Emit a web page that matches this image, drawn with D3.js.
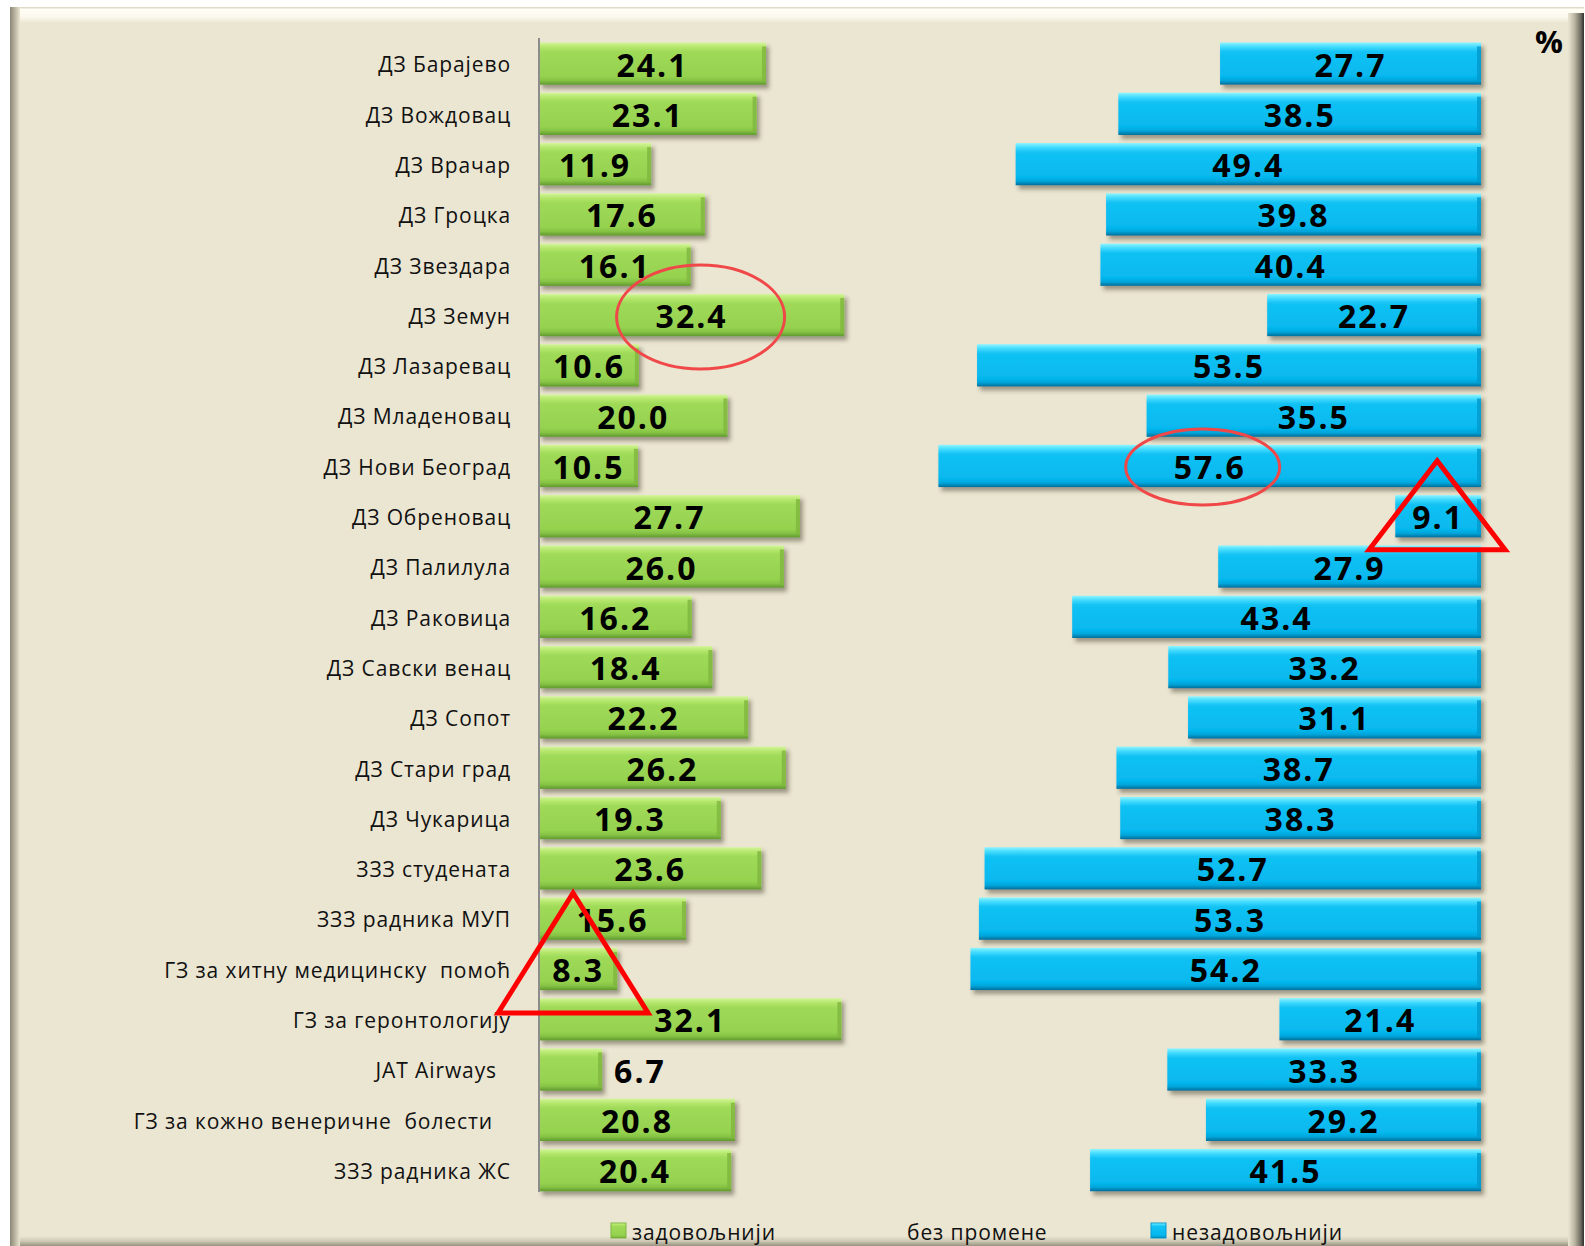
<!DOCTYPE html>
<html>
<head>
<meta charset="utf-8">
<script src="https://cdn.jsdelivr.net/npm/d3@7"></script>
<style>
  body { margin: 0; background: #fff; }
  text { font-family: "Open Sans", "Noto Sans", sans-serif; }
</style>
</head>
<body>
<div id="chart"></div>
<script>
// categories (top to bottom)
const categories = [
  "ДЗ Барајево", "ДЗ Вождовац", "ДЗ Врачар", "ДЗ Гроцка", "ДЗ Звездара",
  "ДЗ Земун", "ДЗ Лазаревац", "ДЗ Младеновац", "ДЗ Нови Београд", "ДЗ Обреновац",
  "ДЗ Палилула", "ДЗ Раковица", "ДЗ Савски венац", "ДЗ Сопот", "ДЗ Стари град",
  "ДЗ Чукарица", "ЗЗЗ студената", "ЗЗЗ радника МУП", "ГЗ за хитну медицинску  помоћ",
  "ГЗ за геронтологију", "JAT Airways", "ГЗ за кожно венеричне  болести", "ЗЗЗ радника ЖС"
];
// label shift for the two labels that end a little left of the others
const labelShift = { "JAT Airways": 14, "ГЗ за кожно венеричне  болести": 18 };

const satisfied = [24.1, 23.1, 11.9, 17.6, 16.1, 32.4, 10.6, 20.0, 10.5, 27.7, 26.0, 16.2,
  18.4, 22.2, 26.2, 19.3, 23.6, 15.6, 8.3, 32.1, 6.7, 20.8, 20.4];
const dissatisfied = [27.7, 38.5, 49.4, 39.8, 40.4, 22.7, 53.5, 35.5, 57.6, 9.1, 27.9, 43.4,
  33.2, 31.1, 38.7, 38.3, 52.7, 53.3, 54.2, 21.4, 33.3, 29.2, 41.5];
// "без промене" is the remainder to 100 %, drawn invisible
const unchanged = satisfied.map((s, i) => +(100 - s - dissatisfied[i]).toFixed(1));

const seriesNames = ["задовољнији", "без промене", "незадовољнији"];

// red hand-drawn highlights (offsets relative to the value label)
const highlights = [
  { cat: "ДЗ Земун", series: 0, shape: "ellipse", rx: 84, ry: 52, dx: 9, dy: 2 },
  { cat: "ДЗ Нови Београд", series: 2, shape: "ellipse", rx: 77, ry: 38, dx: -7, dy: 1 },
  { cat: "ГЗ за хитну медицинску  помоћ", series: 0, shape: "triangle", rx: 75, ry: 120, dx: -5, dy: -16 },
  { cat: "ДЗ Обреновац", series: 2, shape: "triangle", rx: 68, ry: 89, dx: -1, dy: -11 }
];

const W = 1585, H = 1246;
const svg = d3.select("#chart").append("svg")
  .attr("width", W).attr("height", H);

const defs = svg.append("defs");

function grad(id, stops, horiz) {
  const g = defs.append("linearGradient").attr("id", id)
    .attr("x1", 0).attr("y1", 0).attr("x2", horiz ? 1 : 0).attr("y2", horiz ? 0 : 1);
  stops.forEach(s => g.append("stop").attr("offset", s[0]).attr("stop-color", s[1]));
}
grad("gGreen", [["0%", "#d4f59c"], ["10%", "#b6e86e"], ["22%", "#9fda58"], ["80%", "#95d24f"], ["90%", "#86c244"], ["100%", "#5f9a2e"]]);
grad("gBlue", [["0%", "#8ff4ff"], ["10%", "#45dcff"], ["22%", "#12c2f4"], ["80%", "#06b8ee"], ["90%", "#03a6dc"], ["100%", "#036f99"]]);
grad("gLeft", [["0%", "#8a8776"], ["60%", "#c4bfa9"], ["100%", "#ebe6d2"]], true);
grad("gRight", [["0%", "#ebe6d2"], ["40%", "#bdb8a4"], ["80%", "#6d6a60"], ["100%", "#2f2f2c"]], true);
grad("gTop", [["0%", "#d6d1bd"], ["15%", "#fffff6"], ["60%", "#fbf9ee"], ["100%", "#ebe6d2"]]);
grad("gBottom", [["0%", "#ebe6d2"], ["50%", "#cfcab6"], ["100%", "#97937f"]]);

const shadow = defs.append("filter").attr("id", "shadow")
  .attr("x", "-5%").attr("y", "-20%").attr("width", "115%").attr("height", "160%");
shadow.append("feDropShadow").attr("dx", 3).attr("dy", 4).attr("stdDeviation", 2)
  .attr("flood-color", "#3a3320").attr("flood-opacity", 0.45);

// chart frame
const fx0 = 10, fy0 = 7, fx1 = 1584, fy1 = 1246;
svg.append("rect").attr("x", fx0).attr("y", fy0).attr("width", fx1 - fx0).attr("height", fy1 - fy0)
  .attr("fill", "#ebe6d2");
svg.append("rect").attr("x", fx0).attr("y", fy0).attr("width", fx1 - fx0).attr("height", 16)
  .attr("fill", "url(#gTop)");
svg.append("rect").attr("x", fx0).attr("y", fy1 - 10).attr("width", fx1 - fx0).attr("height", 10)
  .attr("fill", "url(#gBottom)");
svg.append("rect").attr("x", fx0).attr("y", fy0).attr("width", 10).attr("height", fy1 - fy0)
  .attr("fill", "url(#gLeft)");
svg.append("rect").attr("x", fx1 - 16).attr("y", fy0 + 6).attr("width", 16).attr("height", fy1 - fy0 - 6)
  .attr("fill", "url(#gRight)");

// scales
const x = d3.scaleLinear().domain([0, 100]).range([539, 1481]);
const y = d3.scaleBand().domain(categories).range([38.4, 1195.3]).paddingInner(0.16).paddingOuter(0.08);

const rows = categories.map((c, i) => ({
  cat: c,
  vals: [satisfied[i], unchanged[i], dissatisfied[i]]
}));
const stack = d3.stack().keys([0, 1, 2]).value((d, k) => d.vals[k])(rows);

const fills = ["url(#gGreen)", "none", "url(#gBlue)"];

// bars
[0, 2].forEach(k => {
  svg.append("g").attr("filter", "url(#shadow)")
    .selectAll("rect").data(stack[k]).join("rect")
    .attr("x", d => x(d[0]))
    .attr("y", d => y(d.data.cat))
    .attr("width", d => x(d[1]) - x(d[0]))
    .attr("height", y.bandwidth())
    .attr("fill", fills[k]);
  // darker right bevel edge
  svg.append("g").selectAll("rect").data(stack[k]).join("rect")
    .attr("x", d => x(d[1]) - 4)
    .attr("y", d => y(d.data.cat) + 4)
    .attr("width", 4)
    .attr("height", y.bandwidth() - 8)
    .attr("fill", k === 0 ? "#7fb53f" : "#0399cc")
    .attr("opacity", 0.8);
});

// category axis
const yAxis = svg.append("g")
  .attr("transform", `translate(${x(0)},0)`)
  .call(d3.axisLeft(y).tickSize(0).tickPadding(28));
yAxis.select(".domain").attr("stroke", "#8c8c8c").attr("stroke-width", 2)
  .attr("d", "M0,38V1192");
yAxis.selectAll("text")
  .attr("font-size", 21).attr("fill", "#111")
  .style("font-family", "'Open Sans', sans-serif")
  .style("letter-spacing", "0.9px")
  .style("white-space", "pre")
  .attr("x", d => -28 - (labelShift[d] || 0))
  .attr("dy", "0.42em");

// value labels
const outside = (d, k) => k === 0 && x(d[1]) - x(d[0]) < 70;
[0, 2].forEach(k => {
  svg.append("g").selectAll("text").data(stack[k]).join("text")
    .attr("x", d => outside(d, k) ? x(d[1]) + 12 : (x(d[0]) + x(d[1])) / 2)
    .attr("y", d => y(d.data.cat) + y.bandwidth() / 2 + 13)
    .attr("text-anchor", d => outside(d, k) ? "start" : "middle")
    .attr("font-size", 32).attr("font-weight", "bold").attr("fill", "#000")
    .style("letter-spacing", "2px")
    .text(d => d.data.vals[k].toFixed(1));
});

// % sign
svg.append("text").attr("x", 1549).attr("y", 53).attr("text-anchor", "middle")
  .attr("font-size", 31).attr("font-weight", "bold").text("%");

// highlights
const hl = svg.append("g").attr("fill", "none");
highlights.forEach(h => {
  const i = categories.indexOf(h.cat);
  const seg = stack[h.series][i];
  const cx = (x(seg[0]) + x(seg[1])) / 2 + h.dx;
  const cy = y(h.cat) + y.bandwidth() / 2 + h.dy;
  if (h.shape === "ellipse") {
    hl.append("ellipse").attr("cx", cx).attr("cy", cy)
      .attr("rx", h.rx).attr("ry", h.ry)
      .attr("stroke", "#f04848").attr("stroke-width", 3);
  } else {
    hl.append("path")
      .attr("d", d3.line()([[cx, cy - h.ry / 2], [cx + h.rx, cy + h.ry / 2], [cx - h.rx, cy + h.ry / 2]]) + "Z")
      .attr("stroke", "#ff0000").attr("stroke-width", 5).attr("stroke-linejoin", "miter");
  }
});

// legend
const legend = svg.append("g");
const legendX = [611, 890, 1151];
seriesNames.forEach((name, k) => {
  const g = legend.append("g").attr("transform", `translate(${legendX[k]},1223)`);
  if (k !== 1) {
    g.append("rect").attr("width", 15).attr("height", 15)
      .attr("fill", fills[k]).attr("stroke", k === 0 ? "#7fb53f" : "#0399cc").attr("stroke-width", 1);
  }
  g.append("text").attr("x", k === 1 ? 17 : 21).attr("y", 17)
    .attr("font-size", 21).attr("fill", "#111")
    .style("letter-spacing", "0.9px").text(name);
});
</script>
</body>
</html>
